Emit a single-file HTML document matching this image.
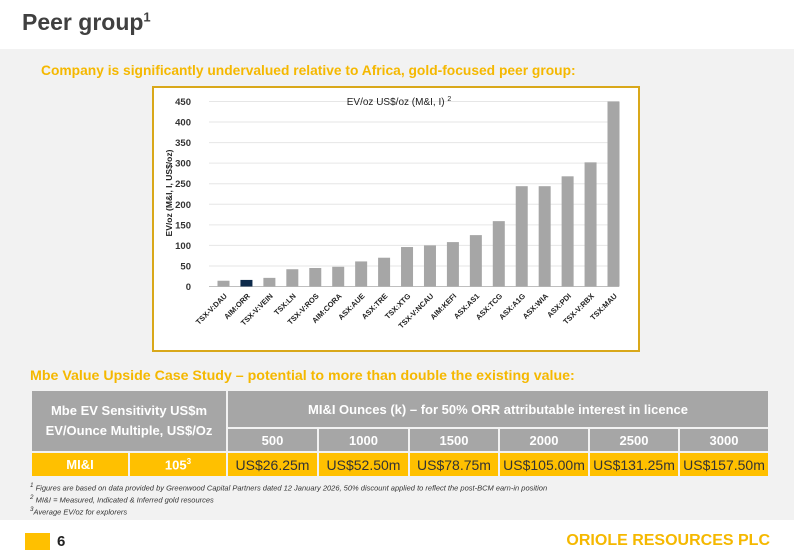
<!DOCTYPE html>
<html><head><meta charset="utf-8"><style>
body{margin:0;width:794px;height:559px;background:#fff;font-family:"Liberation Sans",sans-serif;position:relative;overflow:hidden}
.abs{position:absolute}
#panel{left:0;top:49px;width:794px;height:471px;background:#f2f2f2}
h1{position:absolute;left:22px;top:9px;margin:0;font-size:23px;font-weight:bold;color:#404040}
.sub{font-weight:bold;color:#f5b800}
#chartbox{left:152px;top:86px;width:484px;height:262px;border:2.5px solid #d9a81a;background:#fff}
table{position:absolute;left:30px;top:389px;border-collapse:separate;border-spacing:2px;font-weight:bold;font-size:13px}
td{text-align:center;padding:0}
.g{background:#a6a6a6;color:#fff}
.y{background:#ffc000;color:#fff}
.v{background:#ffc000;color:#333;font-weight:normal;font-size:14px}
.fn{font-size:7.5px;font-style:italic;color:#333;left:30px}
</style></head><body>
<div id="panel" class="abs"></div>
<h1>Peer group<sup style="font-size:13px">1</sup></h1>
<div class="abs sub" style="left:41px;top:63px;font-size:13.8px">Company is significantly undervalued relative to Africa, gold-focused peer group:</div>
<div id="chartbox" class="abs">
<svg id="chart" width="484" height="262"></svg>
</div>
<div class="abs sub" style="left:30px;top:368px;font-size:14.2px">Mbe Value Upside Case Study – potential to more than double the existing value:</div>
<table>
<tr style="height:36px"><td class="g" colspan="2" rowspan="2" style="width:194px;font-size:13px;line-height:20px">Mbe EV Sensitivity US$m<br>EV/Ounce Multiple, US$/Oz</td>
<td class="g" colspan="6">MI&amp;I Ounces (k) – for 50% ORR attributable interest in licence</td></tr>
<tr style="height:22px">
<td class="g" style="width:89px">500</td>
<td class="g" style="width:89px">1000</td>
<td class="g" style="width:88px">1500</td>
<td class="g" style="width:88px">2000</td>
<td class="g" style="width:88px">2500</td>
<td class="g" style="width:88px">3000</td></tr>
<tr style="height:23px">
<td class="y" style="width:96px">MI&amp;I</td>
<td class="y" style="width:96px">105<sup style="font-size:8px">3</sup></td>
<td class="v">US$26.25m</td>
<td class="v">US$52.50m</td>
<td class="v">US$78.75m</td>
<td class="v">US$105.00m</td>
<td class="v">US$131.25m</td>
<td class="v">US$157.50m</td></tr>
</table>
<div class="abs fn" style="top:482px"><sup>1</sup> Figures are based on data provided by Greenwood Capital Partners dated 12 January 2026, 50% discount applied to reflect the post-BCM earn-in position</div>
<div class="abs fn" style="top:494px"><sup>2</sup> MI&amp;I = Measured, Indicated &amp; Inferred gold resources</div>
<div class="abs fn" style="top:506px"><sup>3</sup>Average EV/oz for explorers</div>
<div class="abs" style="left:25px;top:533px;width:25px;height:17px;background:#ffc000"></div>
<div class="abs" style="left:57px;top:533px;font-size:15px;font-weight:bold;color:#222">6</div>
<div class="abs" style="right:24px;top:532px;font-size:16px;font-weight:bold;color:#f5b800">ORIOLE RESOURCES PLC</div>
<script>
const categories=["TSX-V:DAU","AIM:ORR","TSX-V:VEIN","TSX:LN","TSX-V:ROS","AIM:CORA","ASX:AUE","ASX:TRE","TSX:XTG","TSX-V:NCAU","AIM:KEFI","ASX:AS1","ASX:TCG","ASX:A1G","ASX:WIA","ASX:PDI","TSX-V:RBX","TSX:MAU"];
const values=[14,16,21,42,45,48,61,70,96,100,108,125,159,244,244,268,302,450];
const highlight=["AIM:ORR"];
const yTicks=[0,50,100,150,200,250,300,350,400,450];
const NS="http://www.w3.org/2000/svg";
const svg=document.getElementById('chart');
const y0=287-88.5, yTop=102-88.5, yMax=450;
const yS=v=>y0-(v/yMax)*(y0-yTop);
const x0=224-154.5, step=(614-224)/(categories.length-1);
const xS=i=>x0+i*step;
function mk(t,a){const e=document.createElementNS(NS,t);for(const k in a)e.setAttribute(k,a[k]);svg.appendChild(e);return e;}
yTicks.forEach(t=>{
 const l=mk('line',{x1:55,x2:465,y1:yS(t),y2:yS(t),stroke:t===0?'#bfbfbf':'#e6e6e6','stroke-width':1});
 
 
 const tx=mk('text',{x:37,y:yS(t)+3.5,'text-anchor':'end','font-size':9.5,'font-weight':'bold',fill:'#333'});
 tx.textContent=t;
 
 
});
categories.forEach((c,i)=>{
 const r=mk('rect',{x:xS(i)-6,y:yS(values[i]),width:12,height:y0-yS(values[i]),fill:highlight.includes(c)?'#0d2a4a':'#a6a6a6'});
 
 
 const tx=mk('text',{x:xS(i)+4,y:y0+10,'text-anchor':'end','font-size':7.5,'font-weight':'bold',fill:'#222',transform:`rotate(-45 ${xS(i)+4} ${y0+10})`});
 tx.textContent=c;
 
 
});
const tt=mk('text',{x:245,y:17,'text-anchor':'middle','font-size':10,fill:'#222'});
tt.innerHTML='EV/oz US$/oz (M&amp;I, I) <tspan font-size="7" dy="-4">2</tspan>';


const yt=mk('text',{x:18,y:105,'text-anchor':'middle','font-size':8.5,'font-weight':'bold',fill:'#222',transform:'rotate(-90 18 105)'});
yt.textContent='EV/oz (M&I, I, US$/oz)';


</script>
</body></html>
